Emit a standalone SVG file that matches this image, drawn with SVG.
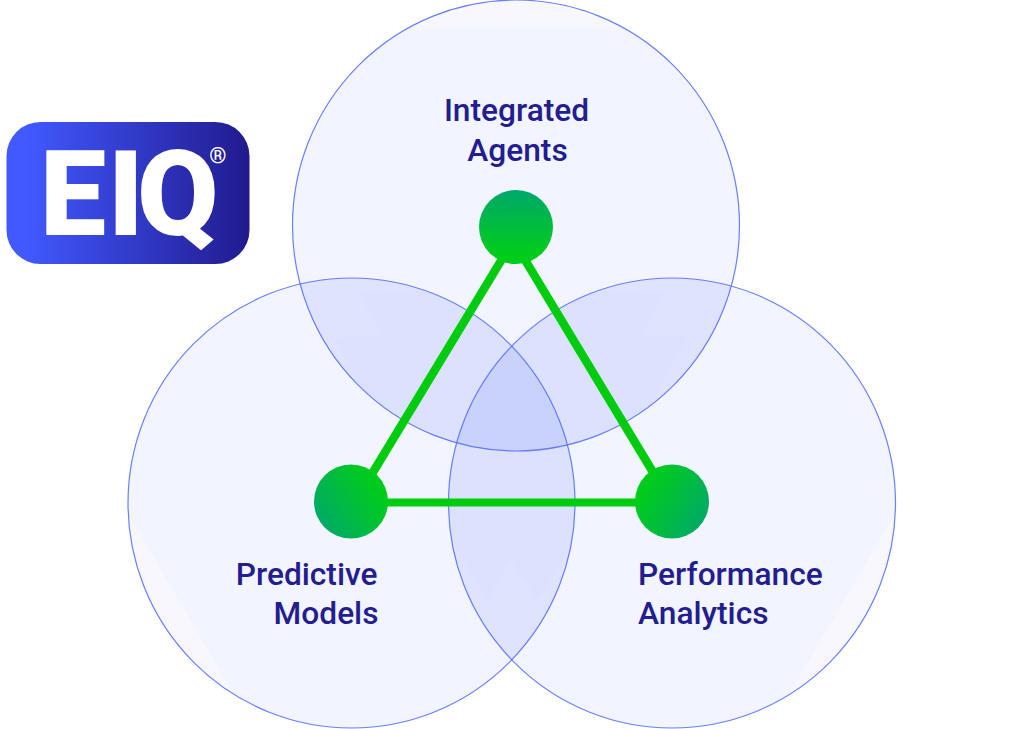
<svg xmlns="http://www.w3.org/2000/svg" width="1024" height="729" viewBox="0 0 1024 729">
<defs>
<linearGradient id="logoGrad" x1="0" y1="0" x2="1" y2="0"><stop offset="0.08" stop-color="#4159ff"/><stop offset="1" stop-color="#211a8e"/></linearGradient>
<linearGradient id="gTop" x1="0" y1="0" x2="0" y2="1"><stop offset="0" stop-color="#00a86b"/><stop offset="0.85" stop-color="#00cc1c"/></linearGradient>
<linearGradient id="gLeft" x1="0" y1="0.8" x2="1" y2="0.2"><stop offset="0" stop-color="#00a86b"/><stop offset="0.85" stop-color="#00cc1c"/></linearGradient>
<linearGradient id="gRight" x1="1" y1="0.8" x2="0" y2="0.2"><stop offset="0" stop-color="#00a86b"/><stop offset="0.85" stop-color="#00cc1c"/></linearGradient>
<ellipse id="eTop" cx="516" cy="225.500" rx="223.500" ry="225.500"/>
<ellipse id="eLeft" cx="351.500" cy="503" rx="223.500" ry="225"/>
<ellipse id="eRight" cx="672" cy="503" rx="223.500" ry="225"/>
<clipPath id="cTop"><use href="#eTop"/></clipPath>
<clipPath id="cLeft"><use href="#eLeft"/></clipPath>
<clipPath id="cRight"><use href="#eRight"/></clipPath>
<clipPath id="cTopLeft" clip-path="url(#cTop)"><use href="#eLeft"/></clipPath>
<clipPath id="cTopRight" clip-path="url(#cTop)"><use href="#eRight"/></clipPath>
<clipPath id="cLeftRight" clip-path="url(#cLeft)"><use href="#eRight"/></clipPath>
<polygon id="chevron" points="430,505 487,600 511,560 538,600 595,505 620,729 410,729"/>
</defs>
<style>
.venn{fill:#f2f5ff}
.cap{fill:#f8f7fe}
.lens{fill:#dce1fd}
.lens-light{fill:#dfe3fd}
.core{fill:#c9d1fd}
.ring{fill:none;stroke:#4f6bfb;stroke-opacity:.85;stroke-width:1.2}
.edge{stroke:#00cc0f;stroke-width:8;fill:none}
.diag{stroke-width:8.500}
.label{font-family:Roboto,"Liberation Sans",sans-serif;font-weight:500;font-size:31.700px;fill:#231d8f}
.logo{font-family:Roboto,"Liberation Sans",sans-serif;font-weight:900;fill:#fff}
</style>
<rect width="1024" height="729" fill="#fff"/>
<g id="venn-top"><use href="#eTop" class="venn"/><rect class="cap" x="280" y="0" width="470" height="28" clip-path="url(#cTop)"/></g>
<g id="venn-left"><use href="#eLeft" class="venn"/><polygon class="cap" points="120,500 240,705 100,729 100,500" clip-path="url(#cLeft)"/></g>
<g id="venn-right"><use href="#eRight" class="venn"/><polygon class="cap" points="903,500 783,705 920,729 920,500" clip-path="url(#cRight)"/></g>
<g id="overlaps">
<g clip-path="url(#cLeftRight)"><rect class="lens" x="440" y="270" width="150" height="460"/><use href="#chevron" class="lens-light"/></g>
<g clip-path="url(#cTopLeft)"><rect class="lens" x="290" y="270" width="300" height="190"/><use href="#chevron" class="lens-light" transform="rotate(120 511.500 410)"/></g>
<g clip-path="url(#cTopRight)"><rect class="lens" x="440" y="270" width="300" height="190"/><use href="#chevron" class="lens-light" transform="rotate(-120 511.500 410)"/></g>
<g clip-path="url(#cTop)"><rect class="core" x="440" y="330" width="150" height="130" clip-path="url(#cLeftRight)"/></g>
</g>
<g id="rings"><use href="#eTop" class="ring"/><use href="#eLeft" class="ring"/><use href="#eRight" class="ring"/></g>
<g id="connectors">
<line class="edge diag" x1="516" y1="236" x2="355" y2="502"/>
<line class="edge diag" x1="513" y1="240" x2="671" y2="502"/>
<line class="edge" x1="351" y1="502.500" x2="672" y2="502.500"/>
</g>
<g id="node-integrated"><circle cx="516" cy="227" r="37" fill="url(#gTop)"/><text class="label" x="516.500" y="121" text-anchor="middle">Integrated</text><text class="label" x="517.500" y="161" text-anchor="middle">Agents</text></g>
<g id="node-predictive"><circle cx="351" cy="501.500" r="37" fill="url(#gLeft)"/><text class="label" x="377.500" y="584.500" text-anchor="end">Predictive</text><text class="label" x="378.500" y="624" text-anchor="end">Models</text></g>
<g id="node-performance"><circle cx="672" cy="501.500" r="37" fill="url(#gRight)"/><text class="label" x="638" y="584.500">Performance</text><text class="label" x="638" y="624">Analytics</text></g>
<g id="logo"><rect x="6.500" y="122" width="243" height="142" rx="34" fill="url(#logoGrad)"/><text class="logo" x="40 108 137" y="235" font-size="118">EIQ</text><text class="logo" x="218" y="163" font-size="22" font-weight="400" text-anchor="middle">®</text></g>
</svg>
